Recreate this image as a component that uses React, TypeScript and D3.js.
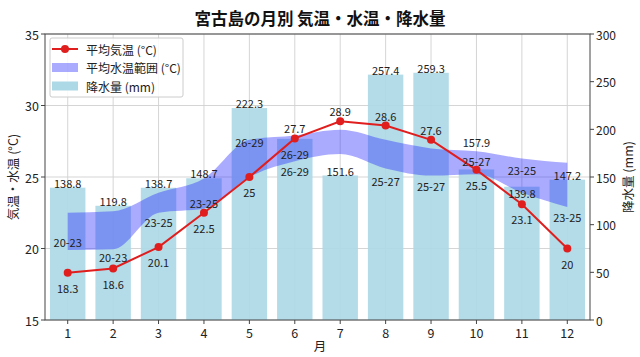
import React from "react";
import * as d3 from "d3";

// ---- data ----
const months = [1, 2, 3, 4, 5, 6, 7, 8, 9, 10, 11, 12];
const airTemp = [18.3, 18.6, 20.1, 22.5, 25, 27.7, 28.9, 28.6, 27.6, 25.5, 23.1, 20];
const precip = [138.8, 119.8, 138.7, 148.7, 222.3, 190, 151.6, 257.4, 259.3, 157.9, 139.8, 147.2];
const precipShown = [true, true, true, true, true, false, true, true, true, true, true, true];
// water-temperature band as drawn
const waterUpper = [22.5, 22.6, 23.9, 24.9, 27.6, 27.9, 28.3, 27.6, 27.0, 26.8, 26.3, 26.0];
const waterLower = [19.9, 19.95, 22.5, 22.8, 25.0, 26.1, 26.6, 25.6, 25.1, 25.2, 23.9, 22.9];
// water range labels: [month, text, anchor (°C)]
const waterNotes: [number, string, number][] = [
  [1, "20-23", 20.45],
  [2, "20-23", 19.4],
  [3, "23-25", 21.85],
  [4, "23-25", 23.2],
  [5, "26-29", 27.45],
  [6, "26-29", 26.6],
  [6, "26-29", 25.45],
  [8, "25-27", 24.7],
  [9, "25-27", 24.4],
  [10, "25-27", 26.1],
  [11, "23-25", 25.5],
  [12, "23-25", 22.2],
];
// precipitation label nudge (mm)
const precipNudge = [0, 0, 0, 0, 0, 0, 0, 0, 0, 24, -12, 0];
const leftTicks = [15, 20, 25, 30, 35];
const rightTicks = [0, 50, 100, 150, 200, 250, 300];

const FONT = "'Noto Sans CJK JP', 'Noto Sans', sans-serif";

export default function App() {
  const W = 640, H = 357;
  const L = 45, R = 590, T = 34, B = 320;
  const x = d3.scaleLinear().domain([0.5, 12.5]).range([L, R]);
  const y = d3.scaleLinear().domain([15, 35]).range([B, T]);
  const y2 = d3.scaleLinear().domain([0, 300]).range([B, T]);
  const bw = (x(2) - x(1)) * 0.78;

  const band = d3
    .area<number>()
    .x((m) => x(m))
    .y0((_, i) => y(waterLower[i]))
    .y1((_, i) => y(waterUpper[i]))
    .curve(d3.curveMonotoneX)(months) as string;

  const line = d3
    .line<number>()
    .x((m) => x(m))
    .y((_, i) => y(airTemp[i]))(months) as string;

  const red = "#e01e1e";
  const textCol = "#222";

  return (
    <svg
      width={W}
      height={H}
      style={{ position: "absolute", left: 0, top: 0, background: "#fff" }}
      fontFamily={FONT}
    >
      <rect x={0} y={0} width={W} height={H} fill="#fff" />
      {/* grid */}
      {months.map((m) => (
        <line key={"gx" + m} x1={x(m)} x2={x(m)} y1={T} y2={B} stroke="#d0d0d0" strokeWidth={0.9} />
      ))}
      {leftTicks.map((t) => (
        <line key={"gy" + t} x1={L} x2={R} y1={y(t)} y2={y(t)} stroke="#d0d0d0" strokeWidth={0.9} />
      ))}
      {/* bars */}
      {months.map((m, i) => (
        <rect
          key={"b" + m}
          x={x(m) - bw / 2}
          y={y2(precip[i])}
          width={bw}
          height={B - y2(precip[i])}
          fill="#add8e6"
          opacity={0.92}
        />
      ))}
      {/* water band */}
      <path d={band} fill="#2020ff" opacity={0.38} />
      {/* air temp line */}
      <path d={line} fill="none" stroke={red} strokeWidth={2} />
      {months.map((m, i) => (
        <circle key={"c" + m} cx={x(m)} cy={y(airTemp[i])} r={4} fill={red} />
      ))}
      {/* precipitation labels */}
      {months.map((m, i) =>
        precipShown[i] ? (
          <text
            key={"pl" + m}
            x={x(m)}
            y={y2(precip[i] + 5 + precipNudge[i])}
            textAnchor="middle"
            dominantBaseline="central"
            fontSize={11}
            fill={textCol}
          >
            {precip[i]}
          </text>
        ) : null
      )}
      {/* water labels */}
      {waterNotes.map(([m, t, v], k) => (
        <text
          key={"wl" + k}
          x={x(m)}
          y={y(v)}
          textAnchor="middle"
          dominantBaseline="central"
          fontSize={11}
          fill={textCol}
        >
          {t}
        </text>
      ))}
      {/* temp labels */}
      {months.map((m, i) => (
        <text
          key={"tl" + m}
          x={x(m)}
          y={y(airTemp[i]) + (airTemp[i] > 26 ? -10 : 15)}
          textAnchor="middle"
          dominantBaseline="central"
          fontSize={11}
          fill={textCol}
        >
          {airTemp[i]}
        </text>
      ))}
      {/* frame */}
      <rect x={L} y={T} width={R - L} height={B - T} fill="none" stroke="#444" strokeWidth={1} />
      {/* left ticks */}
      {leftTicks.map((t) => (
        <g key={"lt" + t}>
          <line x1={L - 4} x2={L} y1={y(t)} y2={y(t)} stroke="#444" />
          <text x={L - 6} y={y(t)} textAnchor="end" dominantBaseline="central" fontSize={12.5} fill={textCol}>
            {t}
          </text>
        </g>
      ))}
      {/* right ticks */}
      {rightTicks.map((t) => (
        <g key={"rt" + t}>
          <line x1={R} x2={R + 4} y1={y2(t)} y2={y2(t)} stroke="#444" />
          <text x={R + 6} y={y2(t)} textAnchor="start" dominantBaseline="central" fontSize={12} fill={textCol}>
            {t}
          </text>
        </g>
      ))}
      {/* bottom ticks */}
      {months.map((m) => (
        <g key={"bt" + m}>
          <line x1={x(m)} x2={x(m)} y1={B} y2={B + 4} stroke="#444" />
          <text x={x(m)} y={B + 12} textAnchor="middle" dominantBaseline="central" fontSize={12.5} fill={textCol}>
            {m}
          </text>
        </g>
      ))}
      {/* axis titles */}
      <text x={320} y={345} textAnchor="middle" dominantBaseline="central" fontSize={12.5} fill={textCol}>
        月
      </text>
      <text
        transform={`translate(12,${(T + B) / 2}) rotate(-90)`}
        textAnchor="middle"
        dominantBaseline="central"
        fontSize={12.5}
        fill={textCol}
      >
        気温・水温 (°C)
      </text>
      <text
        transform={`translate(627,${(T + B) / 2}) rotate(-90)`}
        textAnchor="middle"
        dominantBaseline="central"
        fontSize={12.5}
        fill={textCol}
      >
        降水量 (mm)
      </text>
      {/* title */}
      <text x={320} y={18} textAnchor="middle" dominantBaseline="central" fontSize={16.5} fontWeight="bold" fill="#111">
        宮古島の月別 気温・水温・降水量
      </text>
      {/* legend */}
      <g>
        <rect x={50} y={38} width={133} height={59} rx={2} fill="#fff" fillOpacity={0.85} stroke="#ccc" />
        <line x1={52} x2={78} y1={49} y2={49} stroke={red} strokeWidth={2} />
        <circle cx={65} cy={49} r={4} fill={red} />
        <text x={86} y={49} dominantBaseline="central" fontSize={12} fill={textCol}>
          平均気温 (°C)
        </text>
        <rect x={52} y={63} width={26} height={9} fill="#2020ff" opacity={0.38} />
        <text x={86} y={67.5} dominantBaseline="central" fontSize={12} fill={textCol}>
          平均水温範囲 (°C)
        </text>
        <rect x={52} y={81.5} width={26} height={9} fill="#add8e6" />
        <text x={86} y={86} dominantBaseline="central" fontSize={12} fill={textCol}>
          降水量 (mm)
        </text>
      </g>
    </svg>
  );
}
